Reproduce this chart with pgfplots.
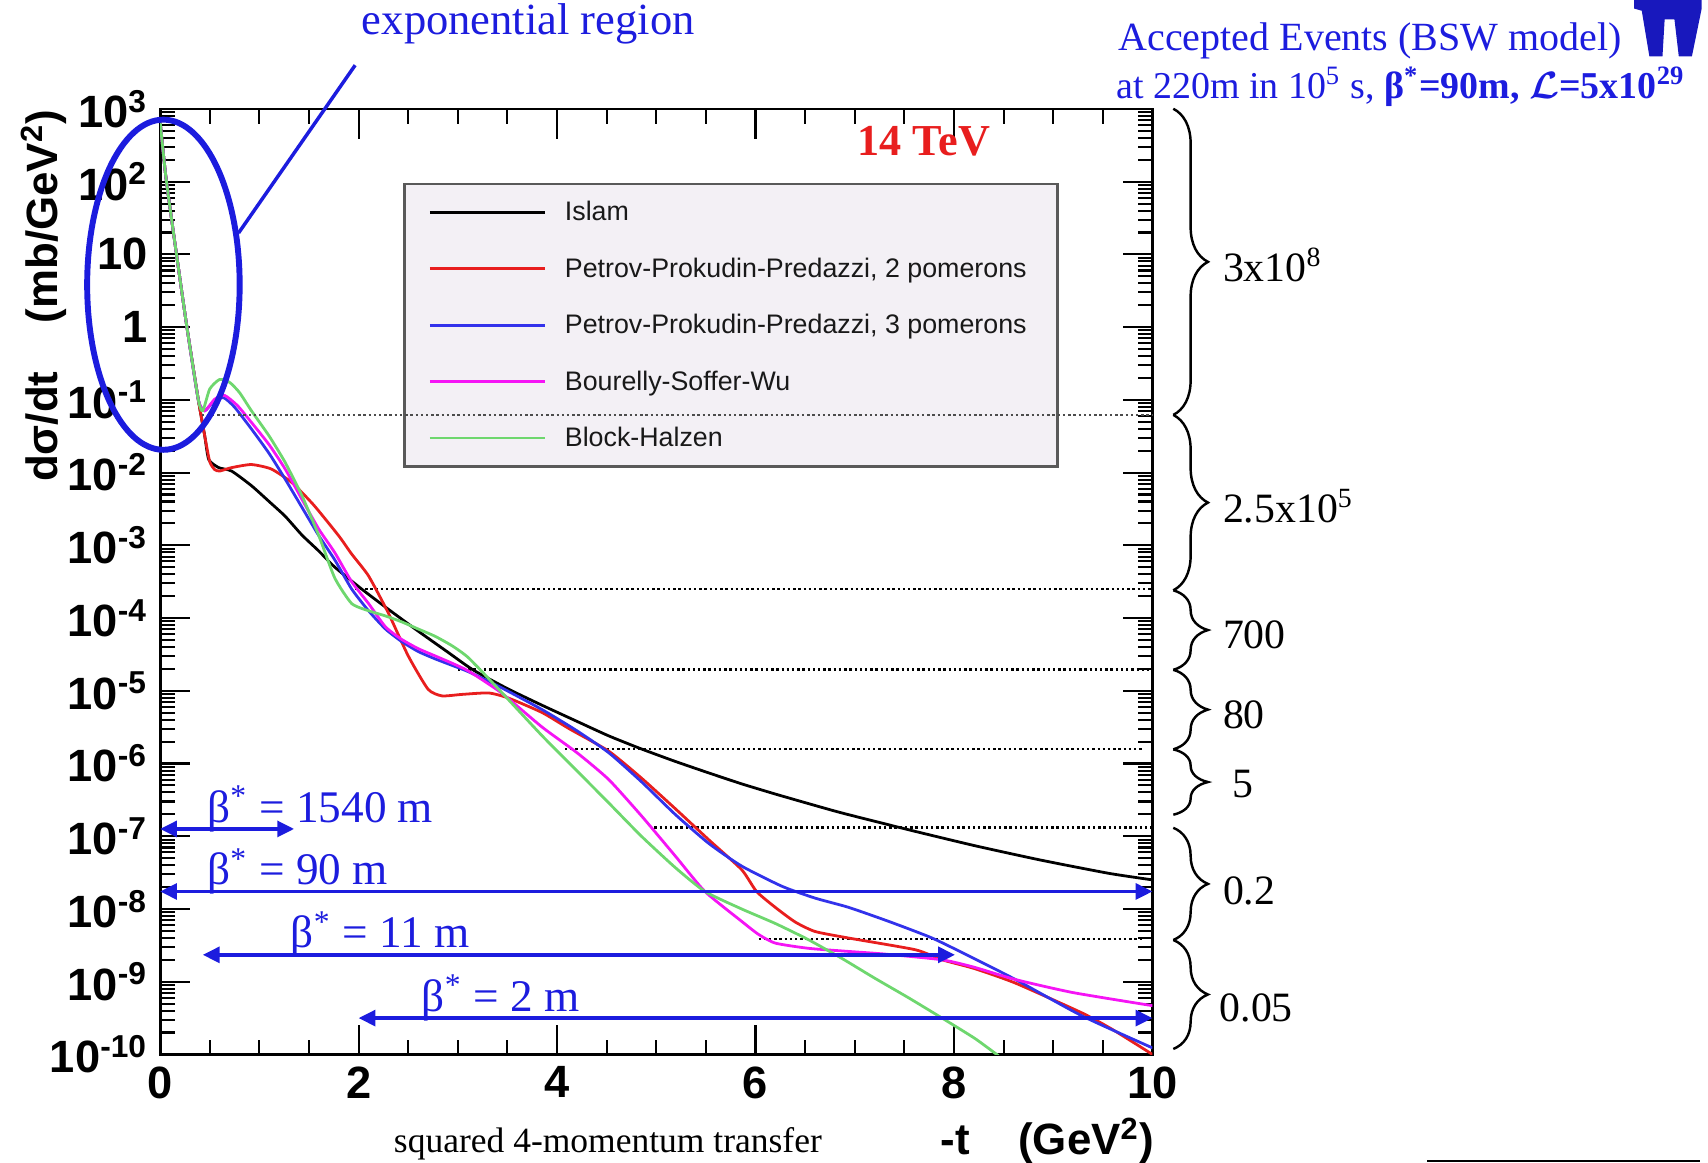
\documentclass[border=0pt]{standalone}
\usepackage{fontspec}
\setmainfont{Liberation Serif}
\newfontfamily\hv{Liberation Sans}
\usepackage{pgfplots}
\pgfplotsset{compat=1.18}
\usetikzlibrary{arrows.meta,decorations.pathreplacing}

\definecolor{annblue}{RGB}{28,28,222}
\definecolor{cred}{RGB}{232,30,30}
\definecolor{cblue}{RGB}{50,50,235}
\definecolor{cmag}{RGB}{245,20,245}
\definecolor{cgreen}{RGB}{110,215,110}
\definecolor{legbg}{RGB}{243,240,245}

\newcommand{\tl}[1]{10\textsuperscript{#1}}

\begin{document}
\begin{tikzpicture}
\begin{axis}[
  at={(1.617cm,1.089cm)}, anchor=south west,
  scale only axis, width=10.021cm, height=9.548cm,
  xmin=0, xmax=10, ymode=log, ymin=1e-10, ymax=1e3,
  clip mode=individual,
  xtick={0,2,4,6,8,10}, xticklabels={0,2,4,6,8,10},
  minor x tick num=3,
  ytickten={-10,-9,-8,-7,-6,-5,-4,-3,-2,-1,0,1,2,3},
  yticklabels={\tl{-10},\tl{-9},\tl{-8},\tl{-7},\tl{-6},\tl{-5},\tl{-4},\tl{-3},\tl{-2},\tl{-1},1,10,\tl{2},\tl{3}},
  tick align=inside, tick pos=both, ticklabel pos=left,
  major tick length=0.3cm, minor tick length=0.15cm,
  axis line style={line width=0.8pt},
  every tick/.style={black, line width=0.6pt},
  tick label style={font=\fontsize{13}{15}\hv\bfseries},
  legend style={at={(0.245,0.922)}, anchor=north west, fill=legbg,
    draw=black!65, line width=0.8pt, text=black!90,
    font=\fontsize{7.7}{9}\hv, inner xsep=0.24cm, inner ysep=0cm,
    row sep=0pt, column sep=0.12cm,
    nodes={minimum height=0.57cm, inner ysep=0pt, text height=0.75em, text depth=0.25em}},
  legend cell align=left,
  legend image code/.code={\draw[#1, line width=0.8pt] (0cm,0cm) -- (1.16cm,0cm);},
  every axis plot/.append style={smooth, tension=0.35},
]
% dotted level lines
\draw[black, line width=0.7pt, dash pattern=on 0.7pt off 0.8pt] (axis cs:1.96,2.51e-4) -- (axis cs:10,2.51e-4);
\draw[black, line width=0.7pt, dash pattern=on 0.7pt off 0.8pt] (axis cs:3.0,1.95e-5) -- (axis cs:10,1.95e-5);
\draw[black, line width=0.7pt, dash pattern=on 0.7pt off 0.8pt] (axis cs:4.08,1.585e-6) -- (axis cs:9.91,1.585e-6);
\draw[black, line width=0.7pt, dash pattern=on 0.7pt off 0.8pt] (axis cs:4.98,1.32e-7) -- (axis cs:10,1.32e-7);
\draw[black, line width=0.7pt, dash pattern=on 0.7pt off 0.8pt] (axis cs:6.03,3.89e-9) -- (axis cs:9.91,3.89e-9);

% Islam
\addplot[black, line width=0.8pt] coordinates {
(0,661) (0.06,110) (0.165,10) (0.27,1.0) (0.385,0.1) (0.45,0.0316) (0.49,0.0151)
(0.59,0.0117) (0.72,0.0105) (0.92,6.61e-3) (1.1,3.98e-3) (1.26,2.51e-3) (1.43,1.38e-3)
(1.6,8.32e-4) (1.76,5.01e-4) (2.03,2.51e-4) (2.3,1.32e-4) (2.6,6.61e-5) (2.9,3.39e-5)
(3.15,1.95e-5) (3.5,1.07e-5) (3.85,6.31e-6) (4.2,3.80e-6) (4.52,2.40e-6) (4.85,1.585e-6)
(5.19,1.07e-6) (5.53,7.41e-7) (5.86,5.25e-7) (6.2,3.80e-7) (6.53,2.82e-7) (6.87,2.09e-7)
(7.54,1.23e-7) (8.21,7.41e-8) (8.88,4.68e-8) (9.56,3.09e-8) (10,2.51e-8)
};
\addlegendentry{Islam}
% PPP 2 pomerons
\addplot[cred, line width=0.8pt] coordinates {
(0,661) (0.06,110) (0.165,10) (0.27,1.0) (0.385,0.1) (0.45,0.0316) (0.5,0.0141)
(0.55,0.0110) (0.6,0.0105) (0.72,0.0117) (0.92,0.0129) (1.12,0.0112) (1.33,7.24e-3)
(1.55,3.55e-3) (1.8,1.35e-3) (1.93,7.59e-4) (2.1,3.80e-4) (2.3,1.17e-4) (2.5,3.02e-5)
(2.7,1.05e-5) (2.84,8.51e-6) (3.04,8.91e-6) (3.31,9.33e-6) (3.51,7.94e-6) (3.85,5.01e-6)
(4.12,3.02e-6) (4.52,1.48e-6) (4.85,6.31e-7) (5.19,2.40e-7) (5.53,8.91e-8) (5.86,3.47e-8)
(6.01,1.74e-8) (6.2,1.05e-8) (6.4,6.61e-9) (6.6,4.90e-9) (6.94,3.98e-9) (7.61,2.75e-9)
(7.88,2.0e-9) (8.21,1.51e-9) (8.62,9.55e-10) (9.29,3.72e-10) (9.6,2.19e-10) (10,1.0e-10)
};
\addlegendentry{Petrov-Prokudin-Predazzi, 2 pomerons}
% PPP 3 pomerons
\addplot[cblue, line width=0.8pt] coordinates {
(0,661) (0.06,110) (0.165,10) (0.27,1.0) (0.385,0.1) (0.45,0.0708) (0.54,0.0955)
(0.64,0.107) (0.75,0.0794) (0.92,0.0398) (1.1,0.0182) (1.26,8.13e-3) (1.43,3.31e-3)
(1.6,1.35e-3) (1.76,6.31e-4) (1.93,2.51e-4) (2.1,1.26e-4) (2.27,7.08e-5) (2.43,4.79e-5)
(2.6,3.47e-5) (2.77,2.75e-5) (2.94,2.24e-5) (3.11,1.82e-5) (3.44,1.10e-5) (3.85,5.50e-6)
(4.2,2.82e-6) (4.52,1.41e-6) (4.85,5.62e-7) (5.19,2.0e-7) (5.53,7.94e-8) (5.86,3.89e-8)
(6.27,2.04e-8) (6.6,1.41e-8) (6.94,1.05e-8) (7.36,6.61e-9) (7.78,3.98e-9) (8.2,2.09e-9)
(8.62,1.07e-9) (9.29,3.39e-10) (10,1.23e-10)
};
\addlegendentry{Petrov-Prokudin-Predazzi, 3 pomerons}
% Bourelly-Soffer-Wu
\addplot[cmag, line width=0.8pt] coordinates {
(0,661) (0.06,110) (0.165,10) (0.27,1.0) (0.385,0.1) (0.45,0.0708) (0.55,0.102)
(0.65,0.115) (0.78,0.0832) (0.92,0.0490) (1.1,0.0240) (1.26,0.0112) (1.43,4.27e-3)
(1.6,1.66e-3) (1.76,7.94e-4) (1.93,3.16e-4) (2.1,1.585e-4) (2.27,7.59e-5) (2.43,5.13e-5)
(2.6,3.80e-5) (2.77,3.02e-5) (2.94,2.40e-5) (3.11,1.86e-5) (3.44,9.33e-6) (3.85,3.16e-6)
(4.2,1.41e-6) (4.52,6.03e-7) (4.85,1.91e-7) (5.19,5.37e-8) (5.49,1.74e-8) (5.86,6.76e-9)
(6.03,4.47e-9) (6.2,3.39e-9) (6.53,2.88e-9) (6.9,2.63e-9) (7.3,2.40e-9) (7.88,2.0e-9)
(8.2,1.585e-9) (8.62,1.07e-9) (9.2,7.08e-10) (10,4.68e-10)
};
\addlegendentry{Bourelly-Soffer-Wu}
% Block-Halzen
\addplot[cgreen, line width=0.8pt] coordinates {
(0,661) (0.06,110) (0.165,10) (0.27,1.0) (0.385,0.1) (0.43,0.0708) (0.5,0.141)
(0.6,0.191) (0.7,0.174) (0.8,0.126) (0.92,0.0708) (1.1,0.0316) (1.26,0.0138)
(1.43,4.79e-3) (1.6,1.35e-3) (1.76,3.55e-4) (1.93,1.585e-4) (2.1,1.26e-4) (2.27,1.07e-4)
(2.43,8.91e-5) (2.6,7.08e-5) (2.77,5.62e-5) (2.94,4.17e-5) (3.11,2.82e-5) (3.44,9.55e-6)
(3.85,2.40e-6) (4.2,7.94e-7) (4.52,2.88e-7) (4.85,1.0e-7) (5.19,3.72e-8) (5.49,1.74e-8)
(5.86,1.0e-8) (6.2,6.31e-9) (6.53,3.80e-9) (6.87,2.09e-9) (7.2,1.12e-9) (7.54,6.03e-10)
(7.88,3.16e-10) (8.21,1.66e-10) (8.45,9.55e-11)
};
\addlegendentry{Block-Halzen}

% beta* acceptance arrows
\draw[annblue, line width=1pt, {Triangle[length=0.17cm,width=0.16cm]}-{Triangle[length=0.17cm,width=0.16cm]}]
  (axis cs:0,1.26e-7) -- (axis cs:1.35,1.26e-7);
\draw[annblue, line width=1pt, {Triangle[length=0.17cm,width=0.16cm]}-{Triangle[length=0.17cm,width=0.16cm]}]
  (axis cs:0,1.74e-8) -- (axis cs:10,1.74e-8);
\draw[annblue, line width=1pt, {Triangle[length=0.17cm,width=0.16cm]}-{Triangle[length=0.17cm,width=0.16cm]}]
  (axis cs:0.43,2.34e-9) -- (axis cs:8.01,2.34e-9);
\draw[annblue, line width=1pt, {Triangle[length=0.17cm,width=0.16cm]}-{Triangle[length=0.17cm,width=0.16cm]}]
  (axis cs:2.0,3.16e-10) -- (axis cs:10,3.16e-10);
\node[anchor=base west, annblue, inner sep=0pt, yshift=0.07cm, font=\fontsize{13}{15}\selectfont] at (axis cs:0.47,1.26e-7) {β\textsuperscript{*} = 1540 m};
\node[anchor=base west, annblue, inner sep=0pt, yshift=0.07cm, font=\fontsize{13}{15}\selectfont] at (axis cs:0.47,1.74e-8) {β\textsuperscript{*} = 90 m};
\node[anchor=base west, annblue, inner sep=0pt, yshift=0.07cm, font=\fontsize{13}{15}\selectfont] at (axis cs:1.31,2.34e-9) {β\textsuperscript{*} = 11 m};
\node[anchor=base west, annblue, inner sep=0pt, yshift=0.07cm, font=\fontsize{13}{15}\selectfont] at (axis cs:2.63,3.16e-10) {β\textsuperscript{*} = 2 m};
\end{axis}

\begin{scope}[x=0.011cm, y=0.011cm]
% dotted line that runs over the legend
\draw[black!70, line width=0.7pt, dash pattern=on 0.7pt off 0.8pt] (185,686) -- (1058,686);
% axis titles
\node[rotate=90, anchor=east, inner sep=0pt, font=\fontsize{12.6}{15}\hv\bfseries] at (40,967) {dσ/dt\hspace{1.1em}(mb/GeV\textsuperscript{2})};
\node[anchor=east, inner sep=0pt, font=\fontsize{12.6}{15}\hv\bfseries] at (1060,20) {-t\hspace{1.1em}(GeV\textsuperscript{2})};
\node[inner sep=0pt, font=\fontsize{10.2}{12}\selectfont] at (558,17) {squared 4-momentum transfer};
% exponential region
\draw[annblue, line width=1.7pt] (150,805.5) ellipse [x radius=0.77cm, y radius=1.667cm];
\draw[annblue, line width=1pt] (219,853) -- (326,1007);
\node[annblue, inner sep=0pt, font=\fontsize{12.8}{15}\selectfont] at (485,1045) {exponential region};
\node[cred, inner sep=0pt, font=\fontsize{12.7}{15}\bfseries] at (848,937) {14 TeV};
% header on the right
\node[annblue, anchor=west, inner sep=0pt, font=\fontsize{11.5}{14}\selectfont] at (1026,1029) {Accepted Events (BSW model)};
\node[annblue, anchor=west, inner sep=0pt, font=\fontsize{10.9}{14}\selectfont] at (1024,987) {at 220m in 10\textsuperscript{5} s, \textbf{β\textsuperscript{*}=90m, {\boldmath$\mathcal{L}$}=5x10\textsuperscript{29}}};
\fill[annblue!85!black] (1500,1067) -- (1562,1067) -- (1562,1059) -- (1553,1015) -- (1541,1015) -- (1537,1049) -- (1528,1049) -- (1526,1015) -- (1514,1015) -- (1507,1057) -- (1500,1059) -- cycle;
\draw[black, line width=0.6pt] (1310,1.5) -- (1560,1.5);
% braces with event counts
\foreach \ya/\yb in {967/686, 686/525, 525/452, 452/379, 379/319, 307/204, 204/104}
  \draw[line width=0.7pt, decorate, decoration={brace, amplitude=0.35cm}] (1077,\ya) -- (1077,\yb);
\node[anchor=west, inner sep=0pt, font=\fontsize{12}{14}\selectfont] at (1122,824) {3x10\textsuperscript{8}};
\node[anchor=west, inner sep=0pt, font=\fontsize{12}{14}\selectfont] at (1122,602) {2.5x10\textsuperscript{5}};
\node[anchor=west, inner sep=0pt, font=\fontsize{12}{14}\selectfont] at (1122,484) {700};
\node[anchor=west, inner sep=0pt, font=\fontsize{12}{14}\selectfont] at (1122,411) {80};
\node[anchor=west, inner sep=0pt, font=\fontsize{12}{14}\selectfont] at (1131,347) {5};
\node[anchor=west, inner sep=0pt, font=\fontsize{12}{14}\selectfont] at (1122,249) {0.2};
\node[anchor=west, inner sep=0pt, font=\fontsize{12}{14}\selectfont] at (1119,142) {0.05};
\end{scope}
\pgfresetboundingbox
\path (0,0) rectangle (17.248cm,11.737cm);
\end{tikzpicture}
\end{document}
